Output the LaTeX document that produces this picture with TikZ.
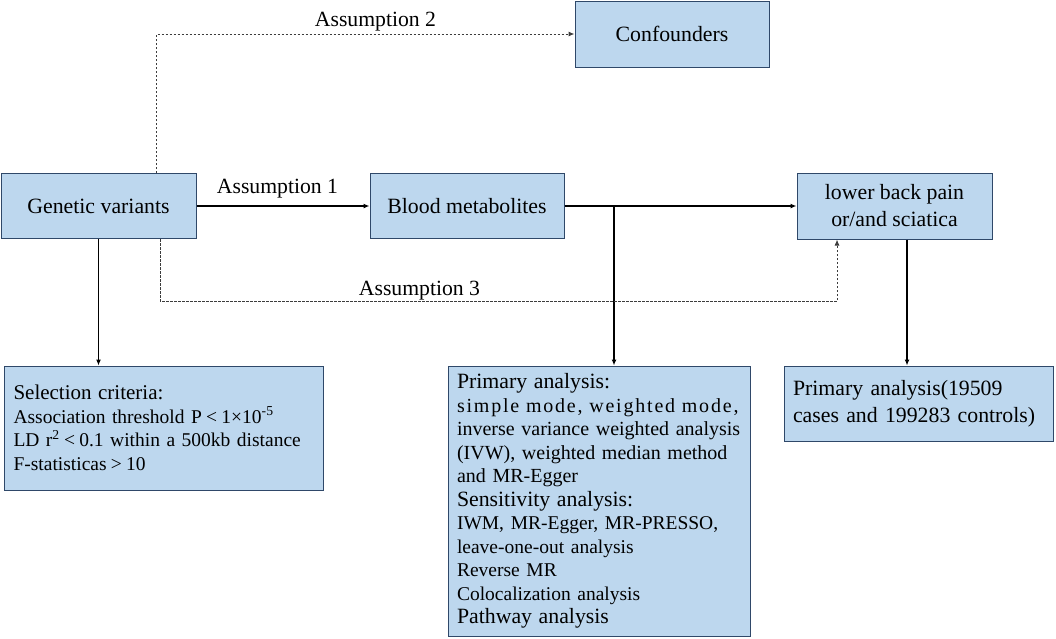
\documentclass[tikz,border=0pt]{standalone}
\usepackage{fontspec}
\setmainfont{Liberation Serif}
\usetikzlibrary{arrows.meta,calc}
\definecolor{boxfill}{RGB}{189,215,238}
\definecolor{boxline}{RGB}{47,72,105}
\definecolor{dashgray}{RGB}{60,60,60}
\newcommand{\fwlt}{\makebox[1em]{<}}
\newcommand{\fwgt}{\makebox[1em]{>}}
\begin{document}
\begin{tikzpicture}[x=1pt,y=-1pt,
  box/.style={draw=boxline,fill=boxfill,line width=1pt,inner sep=0pt,align=center},
  conn/.style={line width=1.4pt,-{Latex[length=6pt,width=5pt]}},
  dconn/.style={draw=dashgray,line width=1pt,dash pattern=on 2.5pt off 1.5pt,-{Latex[length=6pt,width=5pt]}},
  lbl/.style={inner sep=0pt,anchor=base,font=\fontsize{21.7}{26}\selectfont}]
\useasboundingbox (0,0) rectangle (1056,638);
% boxes
\node[box,minimum width=195pt,minimum height=65pt,font=\fontsize{21.8}{26}\selectfont] (gv) at (98.5,206) {Genetic variants};
\node[box,minimum width=194pt,minimum height=65pt,font=\fontsize{21.8}{26}\selectfont] (bm) at (467,206) {Blood metabolites};
\node[box,minimum width=194pt,minimum height=66pt,font=\fontsize{21.8}{27}\selectfont] (cf) at (672,34) {Confounders};
\node[box,minimum width=195pt,minimum height=66pt,font=\fontsize{21.8}{27}\selectfont] (lbp) at (894.5,206) {lower back pain\\or/and sciatica};
\node[box,minimum width=319pt,minimum height=124pt,text width=300pt,inner xsep=9.5pt,align=left,
  font=\fontsize{19.5}{23.5}\selectfont] (sel) at (163.5,428)
  {{\fontsize{21}{23.5}\selectfont Selection criteria:}\\
   Association threshold P\fwlt1×10\textsuperscript{-5}\\
   LD r\textsuperscript{2}\fwlt0.1 within a 500kb distance\\
   F-statisticas\fwgt10};
\node[box,minimum width=302pt,minimum height=270pt,text width=284pt,inner xsep=9pt,align=left,
  font=\fontsize{20}{23.5}\selectfont] (pa) at (599,501)
  {{\fontsize{21.8}{23.5}\selectfont Primary analysis:}\\
   {\addfontfeature{LetterSpace=9}simple mode, weighted mode,}\\
   \makebox[283pt][s]{inverse variance weighted analysis}\\
   \makebox[283pt][s]{(IVW), weighted median method}\\
   and MR-Egger\\
   {\fontsize{21.8}{23.5}\selectfont Sensitivity analysis:}\\
   {\fontsize{19.5}{23.5}\selectfont IWM, MR-Egger, MR-PRESSO,}\\
   {\fontsize{19.5}{23.5}\selectfont leave-one-out analysis}\\
   {\fontsize{19.5}{23.5}\selectfont Reverse MR}\\
   {\fontsize{19.5}{23.5}\selectfont Colocalization analysis}\\
   {\fontsize{21.8}{23.5}\selectfont Pathway analysis}};
\node[box,minimum width=269pt,minimum height=75pt,text width=251pt,inner xsep=9pt,align=left,
  font=\fontsize{21.8}{27}\selectfont] (pa2) at (918.5,403.5)
  {Primary analysis(19509\\cases and 199283 controls)};
% connectors
\draw[conn] (gv.east) -- (bm.west);
\node[lbl] (a1) at (277.5,193) {Assumption 1};
\draw[dconn] ([xshift=58pt]gv.north) |- (cf.west);
\node[lbl] (a2) at (375.5,26) {Assumption 2};
\draw[conn] (bm.east) -- (lbp.west);
\coordinate (j) at (614,206);
\draw[conn] (j) -- (j |- pa.north);
\coordinate (d3) at (160,301);
\draw[dconn] (d3 |- gv.south) -- (d3) -| ([xshift=-57.5pt]lbp.south);
\node[lbl] (a3) at (419.5,295) {Assumption 3};
\draw[conn] (gv.south) -- (gv.south |- sel.north);
\draw[conn] ([xshift=12.5pt]lbp.south) -- ([xshift=12.5pt]lbp.south |- pa2.north);
\end{tikzpicture}
\end{document}
